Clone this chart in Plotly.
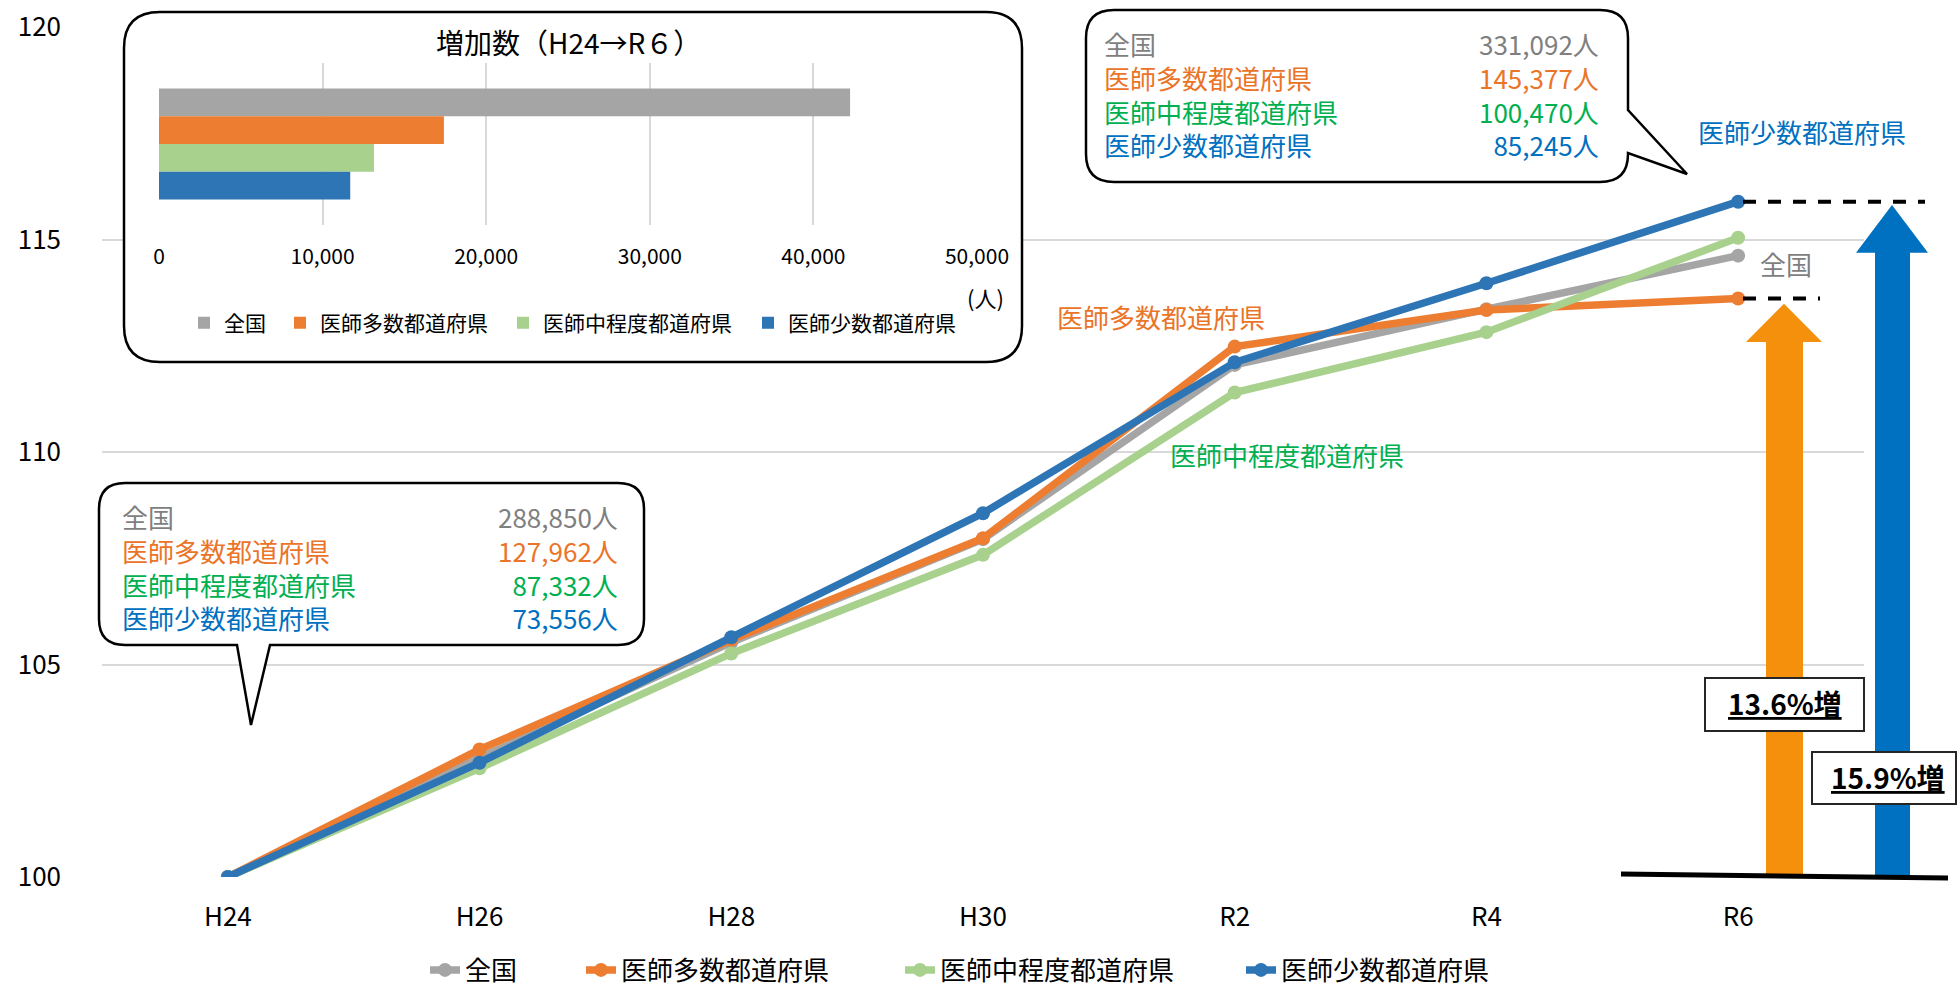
import plotly.graph_objects as go

W, H = 1958, 990
FONT = "Noto Sans CJK JP"

# ---- data -------------------------------------------------------------
years = ["H24", "H26", "H28", "H30", "R2", "R4", "R6"]
groups = ["全国", "医師多数都道府県", "医師中程度都道府県", "医師少数都道府県"]

# physician count index (H24 = 100)
idx_all = [100, 102.80, 105.52, 107.95, 112.05, 113.36, 114.62]
idx_many = [100, 103.00, 105.58, 107.97, 112.48, 113.34, 113.61]
idx_mid = [100, 102.56, 105.26, 107.58, 111.40, 112.82, 115.04]
idx_few = [100, 102.69, 105.64, 108.56, 112.11, 113.97, 115.89]

# physician counts (persons)
doctors_h24 = [288850, 127962, 87332, 73556]
doctors_r6 = [331092, 145377, 100470, 85245]

y_ticks = [100, 105, 110, 115, 120]
inset_ticks = [0, 10000, 20000, 30000, 40000, 50000]

# ---- styling ----------------------------------------------------------
line_colors = ["#A5A5A5", "#ED7D31", "#A9D18E", "#2E75B6"]
text_colors = ["#7F7F7F", "#EA7428", "#00B050", "#0070C0"]
ARROW_ORANGE = "#F5900C"
ARROW_BLUE = "#0070C0"
GRID = "#D9D9D9"


def fx(p):
    return p / W


def fy(p):
    return 1 - p / H


fig = go.Figure()

series = [idx_all, idx_many, idx_mid, idx_few]
main_legends = ["legend", "legend2", "legend3", "legend4"]
for name, vals, col, lg in zip(groups, series, line_colors, main_legends):
    fig.add_trace(go.Scatter(
        x=years, y=vals, name=name, mode="lines+markers",
        line=dict(color=col, width=7.5), marker=dict(color=col, size=14),
        legend=lg, xaxis="x", yaxis="y", hoverinfo="skip",
    ))

# full-page pixel layer that carries the callout frames
fig.add_trace(go.Scatter(x=[], y=[], xaxis="x2", yaxis="y2",
                         showlegend=False, hoverinfo="skip"))

# inset: increase in physicians H24 -> R6
increase = [b - a for a, b in zip(doctors_h24, doctors_r6)]
inset_legends = ["legend5", "legend6", "legend7", "legend8"]
for name, inc, col, lg in zip(groups, increase, line_colors, inset_legends):
    fig.add_trace(go.Bar(
        x=[inc], y=[0], orientation="h", name=name,
        marker=dict(color=col, line=dict(width=0)),
        xaxis="x3", yaxis="y3", legend=lg, hoverinfo="skip",
    ))

# ---- callout frames ---------------------------------------------------
def bubble(x0, y0, x1, y1, r, right_tail=None, bottom_tail=None):
    p = [f"M{x0 + r},{y0}", f"L{x1 - r},{y0}", f"Q{x1},{y0} {x1},{y0 + r}"]
    if right_tail:
        ya, (tx, ty), yb = right_tail
        p += [f"L{x1},{ya}", f"L{tx},{ty}", f"L{x1},{yb}"]
    p += [f"L{x1},{y1 - r}", f"Q{x1},{y1} {x1 - r},{y1}"]
    if bottom_tail:
        xa, (tx, ty), xb = bottom_tail
        p += [f"L{xa},{y1}", f"L{tx},{ty}", f"L{xb},{y1}"]
    p += [f"L{x0 + r},{y1}", f"Q{x0},{y1} {x0},{y1 - r}",
          f"L{x0},{y0 + r}", f"Q{x0},{y0} {x0 + r},{y0}", "Z"]
    return " ".join(p)


frame = dict(type="path", xref="x2", yref="y2", layer="below",
             fillcolor="white", line=dict(color="black", width=2.5))
shapes = [
    dict(frame, path=bubble(124, 12, 1022, 362, 36)),
    dict(frame, path=bubble(1086, 10, 1628, 182, 28,
                            right_tail=(110, (1687, 174), 153))),
    dict(frame, path=bubble(99, 483, 644, 645, 26,
                            bottom_tail=(270, (251, 725), 237))),
]

# ---- level markers and growth arrows ---------------------------------
for val, x1 in [(idx_few[-1], 1925), (idx_many[-1], 1820)]:
    shapes.append(dict(type="line", xref="paper", yref="y", layer="above",
                       x0=fx(1743), x1=fx(x1), y0=val, y1=val,
                       line=dict(color="black", width=4, dash="13px,12px")))


def arrow(xl, xr, hl, hr, base, tip, head):
    cx = (hl + hr) / 2
    neck = tip - head
    return (f"M{fx(xl)},{base} L{fx(xl)},{neck} L{fx(hl)},{neck} "
            f"L{fx(cx)},{tip} L{fx(hr)},{neck} L{fx(xr)},{neck} "
            f"L{fx(xr)},{base} Z")


shapes.append(dict(type="path", xref="paper", yref="y", layer="above",
                   path=arrow(1766, 1803, 1746, 1822, 100, idx_many[-1] - 0.12, 0.9),
                   fillcolor=ARROW_ORANGE, line=dict(width=0)))
shapes.append(dict(type="path", xref="paper", yref="y", layer="above",
                   path=arrow(1875, 1910, 1856, 1928, 100, idx_few[-1] - 0.08, 1.12),
                   fillcolor=ARROW_BLUE, line=dict(width=0)))
shapes.append(dict(type="line", xref="paper", yref="paper", layer="above",
                   x0=fx(1621), y0=fy(874), x1=fx(1948), y1=fy(878),
                   line=dict(color="black", width=5)))
for x0, y0, x1, y1 in [(1705, 678, 1864, 731), (1812, 752, 1956, 804)]:
    shapes.append(dict(type="rect", xref="paper", yref="paper", layer="above",
                       x0=fx(x0), y0=fy(y0), x1=fx(x1), y1=fy(y1),
                       fillcolor="white", line=dict(color="#262626", width=2)))

# ---- texts -------------------------------------------------------------
ann = []


def text(x, y, s, color="black", size=26, anchor="left", align=None):
    ann.append(dict(x=fx(x), y=fy(y), xref="paper", yref="paper", text=s,
                    showarrow=False, xanchor=anchor, yanchor="middle",
                    align=align or ("center" if anchor == "center" else anchor),
                    font=dict(family=FONT, size=size, color=color)))


def colored(s, c):
    return f'<span style="color:{c}">{s}</span>'


def callout(xl, xr, yc, counts):
    names = "<br>".join(colored(g, c) for g, c in zip(groups, text_colors))
    nums = "<br>".join(colored(f"{n:,}人", c) for n, c in zip(counts, text_colors))
    text(xl, yc, names, size=26, anchor="left")
    text(xr, yc, nums, size=26, anchor="right")


callout(1102, 1601, 94, doctors_r6)
callout(120, 620, 567, doctors_h24)

text(1802, 132, groups[3], text_colors[3], anchor="center")
text(1758, 264, groups[0], text_colors[0])
text(1055, 316, groups[1], text_colors[1])
text(1168, 455, groups[2], text_colors[2])

text(1785, 703, f"<b><u>{idx_many[-1] - 100:.1f}%増</u></b>", "black", size=28, anchor="center")
text(1888, 777, f"<b><u>{idx_few[-1] - 100:.1f}%増</u></b>", "black", size=28, anchor="center")

text(568, 42, "増加数（H24→R６）", "black", size=28, anchor="center")
text(985, 297, "(人)", "black", size=22, anchor="center")

# ---- legends ------------------------------------------------------------
legends = {}
for lg, tx in zip(main_legends, [465, 621, 940, 1281]):
    legends[lg] = dict(x=fx(tx - 40), y=fy(970), xanchor="left", yanchor="middle",
                       orientation="h", bgcolor="rgba(0,0,0,0)", borderwidth=0,
                       font=dict(family=FONT, size=26, color="black"))
for lg, tx in zip(inset_legends, [224, 320, 543, 788]):
    legends[lg] = dict(x=fx(tx - 40), y=fy(323), xanchor="left", yanchor="middle",
                       orientation="h", bgcolor="rgba(0,0,0,0)", borderwidth=0,
                       font=dict(family=FONT, size=21, color="black"))

fig.update_layout(
    width=W, height=H,
    margin=dict(l=0, r=0, t=0, b=0, autoexpand=False),
    showlegend=True,
    paper_bgcolor="white", plot_bgcolor="rgba(0,0,0,0)",
    font=dict(family=FONT, color="black"),
    barmode="group", bargap=0.315, bargroupgap=0,
    xaxis=dict(domain=[fx(102), fx(1864)], anchor="y", type="category",
               range=[-0.5, 6.5], showgrid=False, showline=False, zeroline=False,
               ticks="", ticklabelstandoff=22,
               tickfont=dict(family=FONT, size=26, color="black")),
    yaxis=dict(domain=[fy(877), fy(27)], anchor="x", range=[100, 120],
               tickvals=y_ticks, showgrid=True, gridcolor=GRID, gridwidth=2,
               showline=False, zeroline=False, ticks="", ticklabelstandoff=40,
               tickfont=dict(family=FONT, size=26, color="black")),
    xaxis2=dict(domain=[0, 1], anchor="y2", range=[0, W], visible=False),
    yaxis2=dict(domain=[0, 1], anchor="x2", range=[H, 0], visible=False),
    xaxis3=dict(domain=[fx(159), fx(977)], anchor="y3", range=[0, 50000],
                tickvals=inset_ticks, tickformat=",", showgrid=True, gridcolor=GRID,
                gridwidth=1.5, showline=False, zeroline=False, ticks="",
                ticklabelstandoff=17,
                tickfont=dict(family=FONT, size=21, color="black")),
    yaxis3=dict(domain=[fy(225), fy(63)], anchor="x3", range=[0.5, -0.5],
                visible=False),
    shapes=shapes,
    annotations=ann,
    **legends,
)

fig.write_html("out.html", config={"displayModeBar": False})
